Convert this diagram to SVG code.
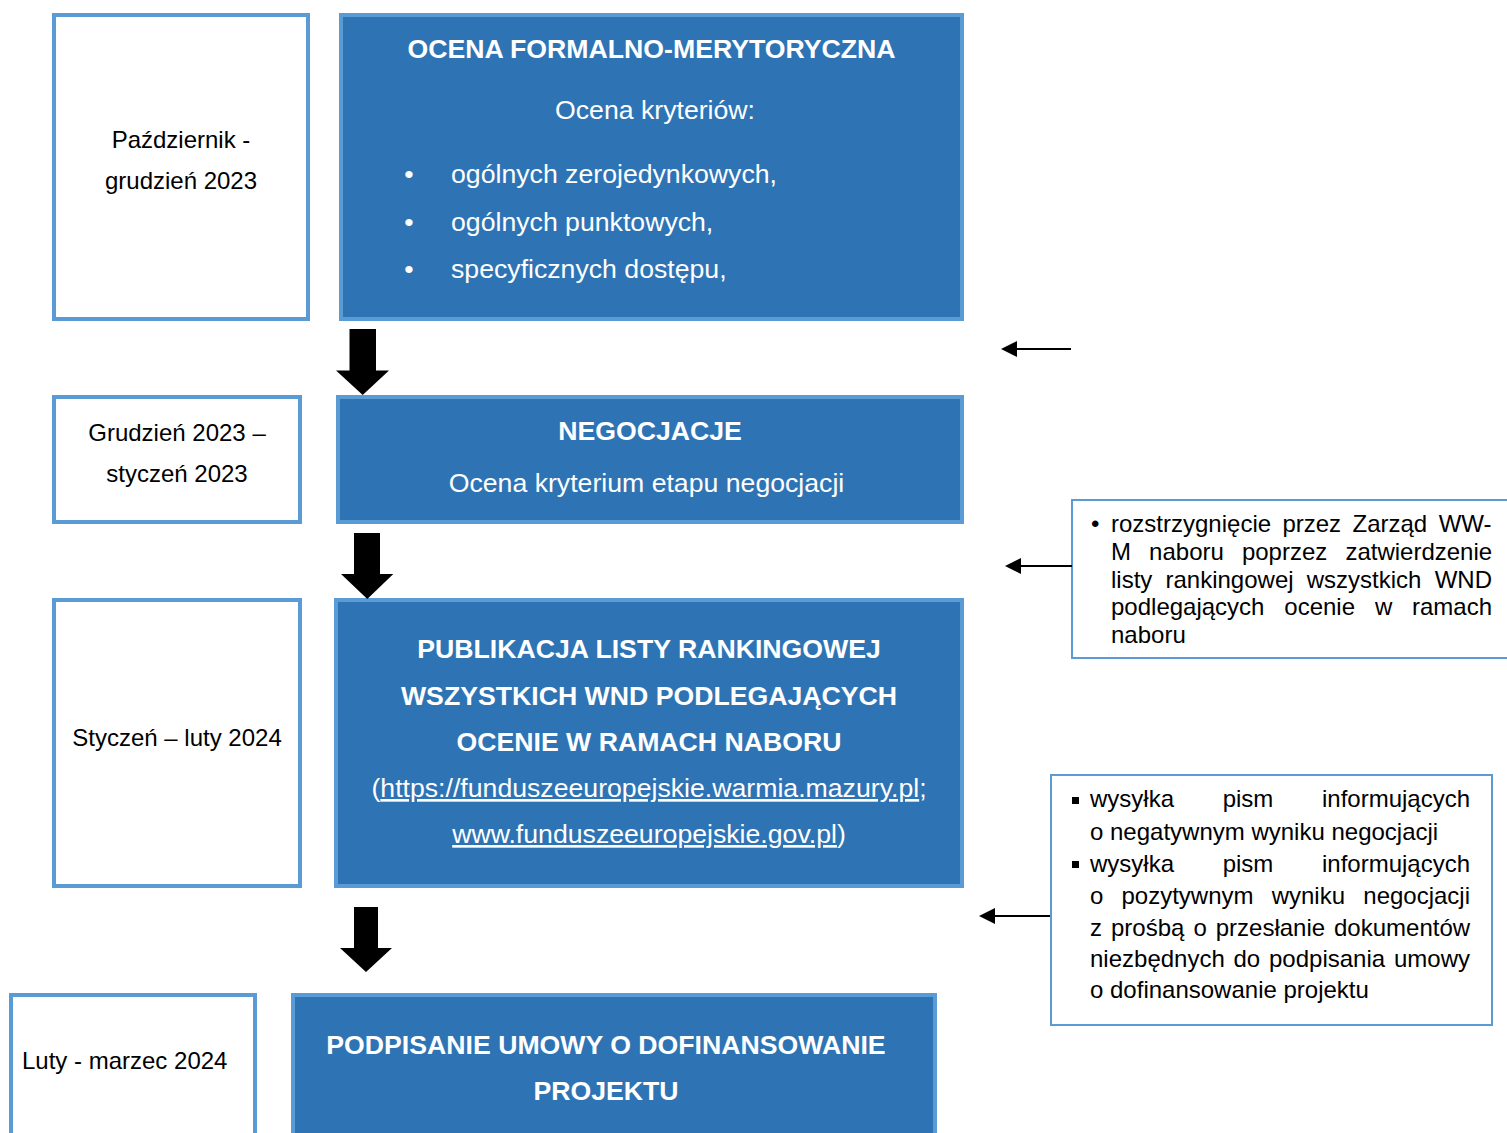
<svg xmlns="http://www.w3.org/2000/svg" width="1507" height="1133" viewBox="0 0 1507 1133">
<defs>
<style>
.date{fill:#fff;stroke:#5B9BD5;stroke-width:4}
.step{fill:#2E74B5;stroke:#5B9BD5;stroke-width:4}
.note{fill:#fff;stroke:#5B9BD5;stroke-width:2}
text{font-family:"Liberation Sans",Arial,sans-serif}
.dt{font-size:24px;fill:#000}
.wt{font-size:26.67px;fill:#fff}
.wb{font-size:26.67px;fill:#fff;font-weight:bold}
.nt{font-size:24px;fill:#000}
.mid{text-anchor:middle}
.end{text-anchor:end}
.u{text-decoration:underline}
.big{fill:#000}
.line{stroke:#000;stroke-width:2;fill:none}
</style>
<marker id="ah" viewBox="0 0 16 16" refX="1" refY="8" markerWidth="16" markerHeight="16" markerUnits="userSpaceOnUse" orient="auto">
<path d="M16,0 L0,8 L16,16 z" fill="#000" transform="rotate(180 8 8)"/>
</marker>
</defs>
<rect width="1507" height="1133" fill="#fff"/>

<g id="date1">
<rect class="date" x="54" y="15" width="254" height="304"/>
<text class="dt mid" x="181" y="148">Październik -</text>
<text class="dt mid" x="181" y="189">grudzień 2023</text>
</g>

<g id="step1">
<rect class="step" x="341" y="15" width="621" height="304"/>
<text class="wb mid" x="651.5" y="58">OCENA FORMALNO-MERYTORYCZNA</text>
<text class="wt mid" x="655" y="119">Ocena kryteriów:</text>
<text class="wt mid" x="409" y="183">•</text>
<text class="wt" x="451" y="183">ogólnych zerojedynkowych,</text>
<text class="wt mid" x="409" y="231">•</text>
<text class="wt" x="451" y="231">ogólnych punktowych,</text>
<text class="wt mid" x="409" y="278">•</text>
<text class="wt" x="451" y="278">specyficznych dostępu,</text>
</g>

<g id="date2">
<rect class="date" x="54" y="397" width="246" height="125"/>
<text class="dt mid" x="177" y="441">Grudzień 2023 –</text>
<text class="dt mid" x="177" y="482">styczeń 2023</text>
</g>

<g id="step2">
<rect class="step" x="338" y="397" width="624" height="125"/>
<text class="wb mid" x="650" y="440">NEGOCJACJE</text>
<text class="wt mid" x="646.5" y="492">Ocena kryterium etapu negocjacji</text>
</g>

<g id="date3">
<rect class="date" x="54" y="600" width="246" height="286"/>
<text class="dt mid" x="177" y="746">Styczeń – luty 2024</text>
</g>

<g id="step3">
<rect class="step" x="336" y="600" width="626" height="286"/>
<text class="wb mid" x="649" y="658">PUBLIKACJA LISTY RANKINGOWEJ</text>
<text class="wb mid" x="649" y="705">WSZYSTKICH WND PODLEGAJĄCYCH</text>
<text class="wb mid" x="649" y="751">OCENIE W RAMACH NABORU</text>
<text class="wt mid" x="649" y="797">(<tspan class="u">https://funduszeeuropejskie.warmia.mazury.pl</tspan>;</text>
<text class="wt mid" x="649" y="843"><tspan class="u">www.funduszeeuropejskie.gov.pl</tspan>)</text>
</g>

<g id="date4">
<rect class="date" x="11" y="995" width="244" height="160"/>
<text class="dt" x="22" y="1069">Luty - marzec 2024</text>
</g>

<g id="step4">
<rect class="step" x="293" y="995" width="642" height="160"/>
<text class="wb mid" x="606" y="1054">PODPISANIE UMOWY O DOFINANSOWANIE</text>
<text class="wb mid" x="606" y="1100">PROJEKTU</text>
</g>

<g id="noteB">
<rect class="note" x="1072" y="500" width="440" height="158"/>
<text class="nt" x="1091" y="532">•</text>
<text class="nt" y="532"><tspan x="1111">rozstrzygnięcie</tspan><tspan x="1282.4">przez</tspan><tspan x="1352.5">Zarząd</tspan><tspan x="1438.7">WW-</tspan></text>
<text class="nt" y="560"><tspan x="1111">M</tspan><tspan x="1149.1">naboru</tspan><tspan x="1241.9">poprzez</tspan><tspan x="1345.4">zatwierdzenie</tspan></text>
<text class="nt" y="588"><tspan x="1111">listy</tspan><tspan x="1165.5">rankingowej</tspan><tspan x="1306.7">wszystkich</tspan><tspan x="1434.7">WND</tspan></text>
<text class="nt" y="615"><tspan x="1111">podlegających</tspan><tspan x="1284.3">ocenie</tspan><tspan x="1374.9">w</tspan><tspan x="1412">ramach</tspan></text>
<text class="nt" x="1111" y="643">naboru</text>
</g>

<g id="noteC">
<rect class="note" x="1051" y="775" width="441" height="250"/>
<rect x="1072" y="797" width="7" height="7" fill="#000"/>
<rect x="1072" y="861" width="7" height="7" fill="#000"/>
<text class="nt" y="807"><tspan x="1090">wysyłka</tspan><tspan x="1222.7">pism</tspan><tspan x="1322">informujących</tspan></text>
<text class="nt" x="1090" y="840">o negatywnym wyniku negocjacji</text>
<text class="nt" y="872"><tspan x="1090">wysyłka</tspan><tspan x="1222.7">pism</tspan><tspan x="1322">informujących</tspan></text>
<text class="nt" y="904"><tspan x="1090">o</tspan><tspan x="1121.5">pozytywnym</tspan><tspan x="1271.7">wyniku</tspan><tspan x="1363.3">negocjacji</tspan></text>
<text class="nt" y="936"><tspan x="1090">z</tspan><tspan x="1111">prośbą</tspan><tspan x="1193.4">o</tspan><tspan x="1215.7">przesłanie</tspan><tspan x="1334">dokumentów</tspan></text>
<text class="nt" y="967"><tspan x="1090">niezbędnych</tspan><tspan x="1233.5">do</tspan><tspan x="1269">podpisania</tspan><tspan x="1394">umowy</tspan></text>
<text class="nt" x="1090" y="998">o dofinansowanie projektu</text>
</g>

<g id="connectors">
<polygon class="big" points="349.5,329 376,329 376,370.5 389,370.5 362.7,395 336,370.5 349.5,370.5"/>
<polygon class="big" points="354,533 380,533 380,574 393.3,574 367.3,599 341,574 354,574"/>
<polygon class="big" points="354,907 378,907 378,948 392,948 366,972 340,948 354,948"/>
<line class="line" x1="1071" y1="349" x2="1016" y2="349"/>
<polygon class="big" points="1001,349 1017,341 1017,357"/>
<line class="line" x1="1072" y1="566" x2="1020" y2="566"/>
<polygon class="big" points="1005,566 1021,558 1021,574"/>
<line class="line" x1="1050" y1="916" x2="994" y2="916"/>
<polygon class="big" points="979,916 995,908 995,924"/>
</g>
</svg>
